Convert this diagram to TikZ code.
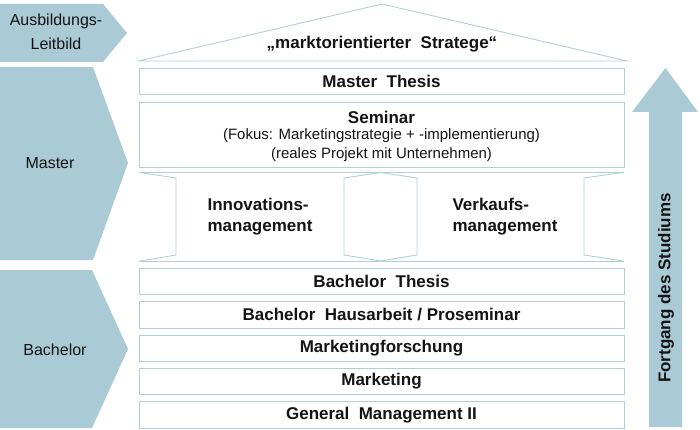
\documentclass[tikz,border=0pt]{standalone}
\usepackage{fontspec}
\setmainfont{Liberation Sans}
\definecolor{chev}{RGB}{170,202,214}
\definecolor{edge}{RGB}{178,206,216}
\definecolor{txt}{RGB}{20,20,20}
\tikzset{
  box/.style={draw=edge, line width=0.9pt, fill=white, minimum width=485pt, inner sep=0pt, text=txt, font=\fontsize{17}{20}\selectfont\bfseries},
  chevshape/.style={fill=chev, draw=none},
  chevlabel/.style={text=txt, font=\fontsize{16}{24}\selectfont, align=center},
  thin/.style={draw=edge, line width=0.9pt},
  pillarlabel/.style={text=txt, font=\fontsize{17}{21}\selectfont\bfseries, align=left}
}
\begin{document}
\begin{tikzpicture}[x=1pt,y=-1pt]
\useasboundingbox (0,0) rectangle (700,430);
% left chevrons
\fill[chevshape] (0,4) -- (103,4) -- (127,33) -- (103,62) -- (0,62) -- cycle;
\node[chevlabel] (leit) at (56,32) {Ausbildungs-\\Leitbild};
\fill[chevshape] (0,67) -- (93,67) -- (128,163) -- (93,260) -- (0,260) -- cycle;
\node[chevlabel] (mas) at (50,163) {Master};
\fill[chevshape] (0,270) -- (92,270) -- (128,349) -- (92,428) -- (0,428) -- cycle;
\node[chevlabel] (bac) at (55,350) {Bachelor};
% roof
\draw[thin] (139,61) -- (382,4) -- (627,61) -- cycle;
\node[text=txt, font=\fontsize{17}{20}\selectfont\bfseries] (roof) at (382,44) {„marktorientierter\ \ Stratege“};
% master boxes
\node[box, minimum height=26pt] (mt) at (381.5,81) {Master\ \ Thesis};
\node[box, minimum height=65pt, align=center] (sem) at (381.5,134.5) {};
\node[text=txt, font=\fontsize{17}{20}\selectfont\bfseries] (semt) at (381.5,117) {Seminar};
\node[text=txt, font=\fontsize{15}{19}\selectfont] (sem1) at (381.5,136) {(Fokus: Marketingstrategie + -implementierung)};
\node[text=txt, font=\fontsize{15}{19}\selectfont] (sem2) at (381.5,155) {(reales Projekt mit Unternehmen)};
% pillars
\draw[thin] (139,172.5) -- (624,172.5);
\draw[thin] (139,261) -- (624,261);
\draw[thin] (140,172.5) -- (176,178) -- (176,255) -- (140,261);
\draw[thin] (344,178) -- (380.5,172.5) -- (417,178) -- (417,255) -- (380.5,261) -- (344,255) -- cycle;
\draw[thin] (623,172.5) -- (584,178) -- (584,255) -- (623,261);
\node[pillarlabel] (inno) at (260,216.5) {Innovations-\\management};
\node[pillarlabel] (verk) at (505,216.5) {Verkaufs-\\management};
% bachelor boxes
\node[box, minimum height=26.5pt] (bt) at (381.5,281.5) {Bachelor\ \ Thesis};
\node[box, minimum height=26.5pt] (bh) at (381.5,315) {Bachelor\ \ Hausarbeit\ /\ Proseminar};
\node[box, minimum height=26.5pt] (mf) at (381.5,348.5) {Marketingforschung};
\node[box, minimum height=26.5pt] (mk) at (381.5,381.5) {Marketing};
\node[box, minimum height=26.5pt] (gm) at (381.5,415) {General\ \ Management\ II};
% progress arrow
\fill[chev] (649,427) -- (649,112) -- (632,112) -- (665.5,68) -- (698,112) -- (682,112) -- (682,427) -- cycle;
\node[rotate=90, text=txt, font=\fontsize{17}{20}\selectfont\bfseries] (fort) at (666,288) {Fortgang des Studiums};
\end{tikzpicture}
\end{document}
